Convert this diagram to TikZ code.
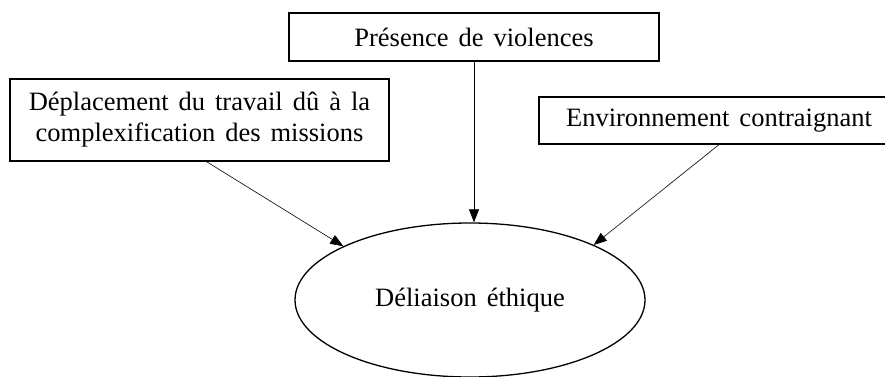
\documentclass[tikz,border=0pt]{standalone}
\usepackage{fontspec}
\setmainfont{Liberation Serif}
\usetikzlibrary{arrows.meta,shapes.geometric}
\newcommand{\boxfont}{\fontsize{26.5}{31}\selectfont\spaceskip=10pt plus 1pt\relax}

\begin{document}
\begin{tikzpicture}[x=1pt, y=1pt,
    cause/.style={draw, line width=1.3pt, align=center, inner sep=0pt, font=\boxfont},
    link/.style={line width=0.6pt, -{Triangle[length=13pt,width=10pt]}}]
    \useasboundingbox (0,0) rectangle (885,376);
    %Causes
    \node[cause, minimum width=370pt, minimum height=48pt] (violence) at (474,339) {Présence de violences};
    \node[cause, minimum width=379pt, minimum height=82pt] (mission) at (199.5,256) {Déplacement du travail dû à la\\complexification des missions};
    \node[cause, minimum width=360pt, minimum height=47pt] (milieu) at (719,255.5) {Environnement contraignant};
    %Effect
    \node[ellipse, draw, line width=1.3pt, inner sep=0pt, minimum width=350pt, minimum height=154pt,
        font=\boxfont] (effet) at (470,76) {\raisebox{-3pt}{Déliaison éthique}};
    %Links
    \draw[link] ([xshift=7pt]mission.south) to (effet.157);
    \draw[link] (violence.south) to (violence.south |- effet.north);
    \draw[link] (milieu.south) to (effet.24);
\end{tikzpicture}
\end{document}
